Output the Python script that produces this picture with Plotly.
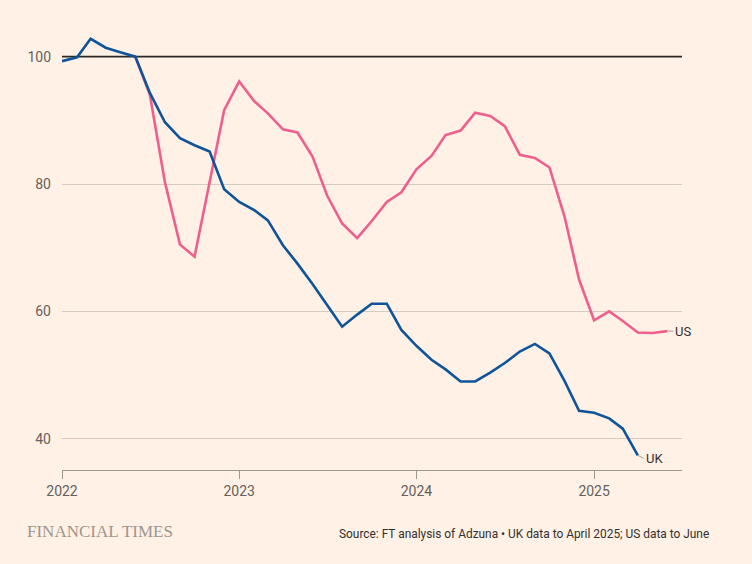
import plotly.graph_objects as go
import pandas as pd

uk_dates = pd.date_range("2022-01-01", "2025-04-01", freq="MS")
uk_values = [99.3, 99.9, 102.8, 101.4, 100.7, 100.0,
             94.3, 89.7, 87.2, 86.1, 85.1, 79.2,
             77.2, 75.9, 74.3, 70.4, 67.5, 64.3,
             61.0, 57.6, 59.5, 61.2, 61.2, 57.1,
             54.6, 52.4, 50.9, 49.0, 49.0, 50.4,
             51.9, 53.7, 54.9, 53.4, 49.1, 44.4,
             44.1, 43.2, 41.6, 37.4]

us_dates = pd.date_range("2022-06-01", "2025-06-01", freq="MS")
us_values = [100.0, 94.0, 80.3, 70.5, 68.6, 80.6, 91.6,
             96.1, 93.0, 91.1, 88.6, 88.1, 84.3,
             78.2, 73.8, 71.5, 74.2, 77.2, 78.7,
             82.3, 84.4, 87.7, 88.4, 91.2, 90.7,
             89.1, 84.6, 84.1, 82.6, 74.9, 65.0,
             58.6, 60.0, 58.5, 56.7, 56.6, 56.9]

y_ticks = [40, 60, 80, 100]
baseline = 100
x_ticks = ["2022-01-01", "2023-01-01", "2024-01-01", "2025-01-01"]
x_labels = ["2022", "2023", "2024", "2025"]

BG = "#fff1e5"
BLUE = "#0f5499"
PINK = "#ee5f8d"
TXT = "#66605c"
DARK = "#33302e"

fig = go.Figure()
# empty helper trace so the grid-only overlay axis is drawn
fig.add_trace(go.Scatter(x=[], y=[], yaxis="y2", mode="lines", hoverinfo="skip",
                         showlegend=False))
fig.add_trace(go.Scatter(x=us_dates, y=us_values, mode="lines", name="US",
                         line=dict(color=PINK, width=2.6), hoverinfo="skip"))
fig.add_trace(go.Scatter(x=uk_dates, y=uk_values, mode="lines", name="UK",
                         line=dict(color=BLUE, width=2.6), hoverinfo="skip"))

fig.add_shape(type="line", xref="paper", x0=0, x1=1, yref="y", y0=baseline, y1=baseline,
              line=dict(color="#2b2826", width=1.6), layer="between")

fig.add_annotation(x=us_dates[-1], y=us_values[-1], text="US", showarrow=True,
                   arrowhead=0, arrowwidth=1, arrowcolor="#a7a09a", ax=6, ay=0,
                   xanchor="left", yanchor="middle",
                   font=dict(family="Roboto", size=13, color=DARK))
fig.add_annotation(x=uk_dates[-1], y=uk_values[-1], text="UK", showarrow=True,
                   arrowhead=0, arrowwidth=1, arrowcolor="#a7a09a", ax=6, ay=3,
                   xanchor="left", yanchor="middle",
                   font=dict(family="Roboto", size=13, color=DARK))

fig.add_annotation(xref="paper", yref="paper", x=-0.06, y=-0.14,
                   xanchor="left", yanchor="middle", showarrow=False,
                   text="FINANCIAL TIMES",
                   font=dict(family="Liberation Serif", size=17, color="#9e958d"))
fig.add_annotation(xref="paper", yref="paper", x=1.047, y=-0.145,
                   xanchor="right", yanchor="middle", showarrow=False,
                   text="Source: FT analysis of Adzuna \u2022 UK data to April 2025; US data to June",
                   font=dict(family="Roboto", size=11.9, color=DARK))

fig.update_layout(
    width=752, height=564,
    paper_bgcolor=BG, plot_bgcolor=BG,
    margin=dict(l=62, r=70, t=28, b=94),
    showlegend=False,
    xaxis=dict(range=["2022-01-01", "2025-07-01"], tickvals=x_ticks, ticktext=x_labels,
               showgrid=False, showline=True, linecolor="#9e9891", linewidth=1,
               ticks="outside", ticklen=8, tickcolor="#9e9891",
               tickfont=dict(family="Roboto", size=14, color=TXT), zeroline=False),
    yaxis=dict(range=[35.1, 104.5], tickvals=y_ticks, showgrid=False,
               zeroline=False, showline=False,
               ticks="", ticklabelstandoff=10,
               tickfont=dict(family="Roboto", size=14, color=TXT)),
    yaxis2=dict(overlaying="y", range=[35.1, 104.5],
                tickvals=[v for v in y_ticks if v != baseline], showgrid=True,
                gridcolor="#d4cbc2", gridwidth=1, zeroline=False, showline=False,
                showticklabels=False, ticks=""),
)

fig.write_html("out.html", config={"displayModeBar": False},
               post_script="document.body.style.margin='0';document.body.style.background='#fff1e5';")
